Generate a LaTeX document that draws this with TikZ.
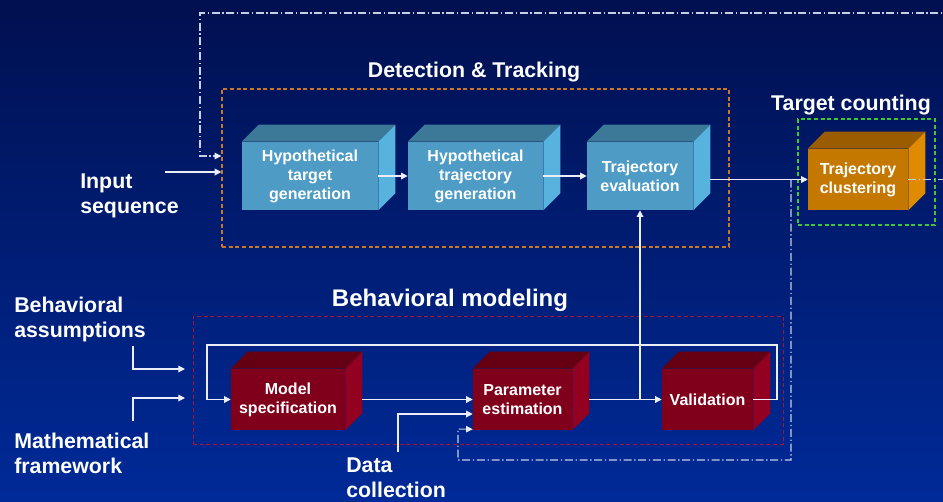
\documentclass[tikz,border=0pt]{standalone}
\usepackage{fontspec}
\setmainfont{Liberation Sans}
\usetikzlibrary{arrows.meta}

\definecolor{bgtop}{RGB}{0,16,80}
\definecolor{bgbot}{RGB}{0,42,152}
\definecolor{frontblue}{RGB}{78,155,197}
\definecolor{topblue}{RGB}{60,120,152}
\definecolor{sideblue}{RGB}{88,178,222}
\definecolor{frontorange}{RGB}{196,120,0}
\definecolor{toporange}{RGB}{155,92,0}
\definecolor{sideorange}{RGB}{224,138,0}
\definecolor{frontred}{RGB}{128,0,28}
\definecolor{topred}{RGB}{100,0,18}
\definecolor{sidered}{RGB}{148,0,32}
\definecolor{dtline}{RGB}{200,120,40}
\definecolor{tcline}{RGB}{60,200,60}
\definecolor{bmline}{RGB}{170,20,50}
\definecolor{linewhite}{RGB}{235,238,248}
\definecolor{linegray}{RGB}{200,206,228}

\begin{document}
\begin{tikzpicture}[x=0.75pt, y=-0.75pt,
    cubebox/.style={inner sep=0pt, align=center, text=white, font=\bfseries\fontsize{12}{14.25}\selectfont},
    grouptitle/.style={text=white, inner sep=0pt, font=\bfseries\fontsize{16}{19}\selectfont},
    sidetext/.style={anchor=west, align=left, inner sep=0pt, text=white, font=\bfseries\fontsize{16}{18.75}\selectfont},
    groupbox/.style={inner sep=0pt, line width=0.9pt, dash pattern=on 3pt off 2pt},
    arr/.style={draw=linewhite, line width=0.9pt, -{Triangle[length=5pt,width=5pt]}},
    backline/.style={draw=linegray, line width=0.8pt, dash pattern=on 6pt off 2pt on 1pt off 2pt, -{Triangle[length=5pt,width=5pt,fill=linewhite,line width=0pt]}}]

    \shade[top color=bgtop, bottom color=bgbot] (0,0) rectangle (943,501);
    \useasboundingbox (0,0) rectangle (943,501);

    \node[groupbox, draw=dtline, minimum width=380.25pt, minimum height=118.5pt] (dt) at (475.5,168) {};
    \node[groupbox, draw=tcline, minimum width=102.75pt, minimum height=79.5pt] (tc) at (866.5,172) {};
    \node[groupbox, draw=bmline, line width=0.6pt, minimum width=442.5pt, minimum height=96pt] (bm) at (488,380) {};

    \node[cubebox, fill=frontblue, minimum width=102pt, minimum height=51pt] (hyp1) at (310,176) {Hypothetical\\target\\generation};
    \node[cubebox, fill=frontblue, minimum width=101.25pt, minimum height=51pt] (hyp2) at (475.5,176) {Hypothetical\\trajectory\\generation};
    \node[cubebox, fill=frontblue, minimum width=79.5pt, minimum height=51pt] (eval) at (640,176) {Trajectory\\evaluation};
    \node[cubebox, fill=frontorange, minimum width=75pt, minimum height=45.75pt] (clust) at (858,179.5) {Trajectory\\clustering};
    \node[cubebox, fill=frontred, minimum width=85.5pt, minimum height=45.75pt] (spec) at (288,399.5) {Model\\specification};
    \node[cubebox, fill=frontred, minimum width=74.25pt, minimum height=45.75pt] (param) at (522.5,399.5) {Parameter\\estimation};
    \node[cubebox, fill=frontred, minimum width=68.25pt, minimum height=45.75pt] (valid) at (707.5,399.5) {Validation};

    \foreach \n/\c in {hyp1/blue, hyp2/blue, eval/blue, clust/orange, spec/red, param/red, valid/red} {
        \fill[top\c] (\n.north west) -- ++(17,-17) -- ([shift={(17,-17)}]\n.north east) -- (\n.north east) -- cycle;
        \fill[side\c] (\n.north east) -- ++(17,-17) -- ([shift={(17,-17)}]\n.south east) -- (\n.south east) -- cycle;
    }

    \node[grouptitle] (dttitle) at (474,72) {Detection \& Tracking};
    \node[grouptitle] (tctitle) at (851,105) {Target counting};
    \node[grouptitle, font=\bfseries\fontsize{18}{21}\selectfont] (bmtitle) at (450,300) {Behavioral modeling};

    \node[sidetext] (input) at (80,196) {Input\\sequence};
    \node[sidetext] (assump) at (14,319.5) {Behavioral\\assumptions};
    \node[sidetext] (mathfw) at (14,453.5) {Mathematical\\framework};
    \node[sidetext] (datacoll) at (346,477.5) {Data\\collection};

    \coordinate (insrc) at (165,172);
    \coordinate (fbin) at (200,156);
    \coordinate (fbtap) at (791,179.5);
    \coordinate (basrc) at (133,346);
    \coordinate (bain) at (185,369);
    \coordinate (mfsrc) at (133,421);
    \coordinate (mfin) at (185,398);
    \coordinate (dcsrc) at (398,452);
    \path (eval.east |- clust.west) ++(17,0) coordinate (evout);
    \path (spec.east) ++(17,0) coordinate (specout);
    \path (param.east) ++(17,0) coordinate (paramout);

    \draw[arr] (insrc) -- (insrc -| dt.west);
    \draw[arr] (hyp1.east) -- (hyp2.west);
    \draw[arr] (hyp2.east) -- (eval.west);
    \draw[arr] (evout) -- (clust.west);
    \draw[backline] (clust.east) -- (950,179.5) -- (950,13) -- (200,13) -- (fbin) -- (fbin -| dt.west);
    \draw[backline] (fbtap) -- (791,460) -- (458,460) -- (458,429) -- ([yshift=0.75pt]param.south west);

    \draw[arr] (basrc) |- (bain);
    \draw[arr] (mfsrc) |- (mfin);
    \draw[arr] (valid.east) -- (777,399.5) -- (777,345) -- (207,345) |- (spec.west);
    \draw[arr] (specout) -- (param.west);
    \draw[arr] (dcsrc) |- ([yshift=-10.875pt]param.west);
    \draw[arr] (paramout) -- (valid.west);
    \draw[arr] (eval.south |- valid.west) -- (eval.south);
\end{tikzpicture}
\end{document}
